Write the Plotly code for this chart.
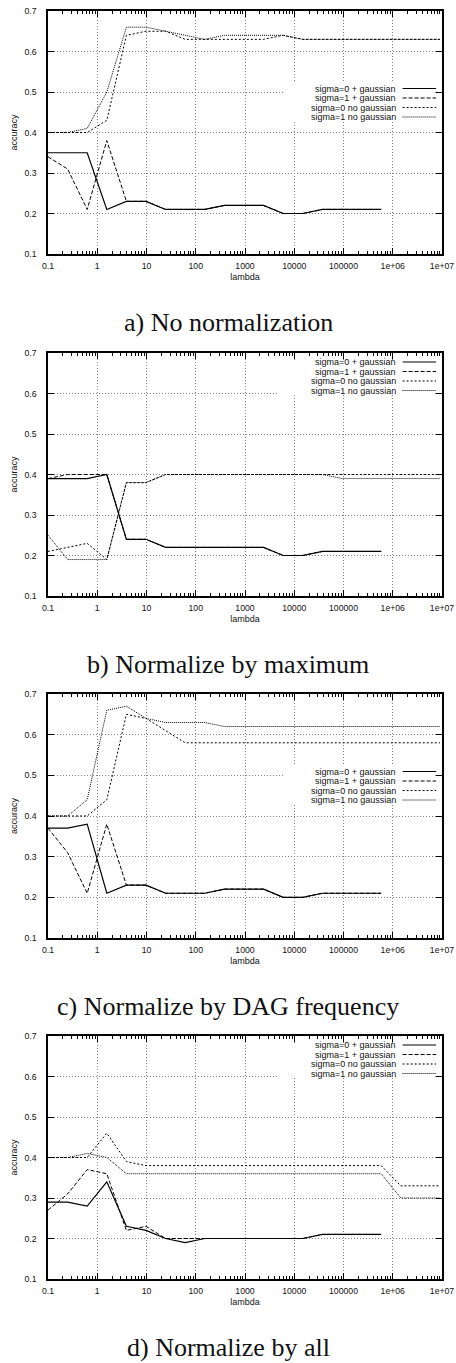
import plotly.graph_objects as go

# ---------------- data ----------------
LAMBDA = [0.1, 0.25, 0.625, 1.5625, 3.90625, 9.765625, 24.4140625, 61.03515625,
          152.587890625, 381.4697265625, 953.67431640625, 2384.185791015625,
          5960.464477539062, 14901.161193847656, 37252.90298461914, 93132.25746154785,
          232830.64365386963, 582076.6091346741, 1455191.5228366852,
          3637978.807091713, 9094947.017729282]

SERIES_NAMES = ["sigma=0 + gaussian", "sigma=1 + gaussian",
                "sigma=0 no gaussian", "sigma=1 no gaussian"]

# a) No normalization
A_S0_G = [0.35, 0.35, 0.35, 0.21, 0.23, 0.23, 0.21, 0.21, 0.21, 0.22, 0.22, 0.22,
          0.20, 0.20, 0.21, 0.21, 0.21, 0.21]
A_S1_G = [0.34, 0.31, 0.21, 0.38, 0.23, 0.23, 0.21, 0.21, 0.21, 0.22, 0.22, 0.22,
          0.20, 0.20, 0.21, 0.21, 0.21, 0.21]
A_S0_N = [0.40, 0.40, 0.40, 0.43, 0.64, 0.65, 0.65, 0.63, 0.63, 0.63, 0.63, 0.63,
          0.64, 0.63, 0.63, 0.63, 0.63, 0.63, 0.63, 0.63, 0.63]
A_S1_N = [0.40, 0.40, 0.41, 0.50, 0.66, 0.66, 0.65, 0.64, 0.63, 0.64, 0.64, 0.64,
          0.64, 0.63, 0.63, 0.63, 0.63, 0.63, 0.63, 0.63, 0.63]

# b) Normalize by maximum
B_S0_G = [0.39, 0.39, 0.39, 0.40, 0.24, 0.24, 0.22, 0.22, 0.22, 0.22, 0.22, 0.22,
          0.20, 0.20, 0.21, 0.21, 0.21, 0.21]
B_S1_G = [0.39, 0.40, 0.40, 0.40, 0.24, 0.24, 0.22, 0.22, 0.22, 0.22, 0.22, 0.22,
          0.20, 0.20, 0.21, 0.21, 0.21, 0.21]
B_S0_N = [0.21, 0.22, 0.23, 0.19, 0.38, 0.38, 0.40, 0.40, 0.40, 0.40, 0.40, 0.40,
          0.40, 0.40, 0.40, 0.40, 0.40, 0.40, 0.40, 0.40, 0.40]
B_S1_N = [0.25, 0.19, 0.19, 0.19, 0.38, 0.38, 0.40, 0.40, 0.40, 0.40, 0.40, 0.40,
          0.40, 0.40, 0.40, 0.39, 0.39, 0.39, 0.39, 0.39, 0.39]

# c) Normalize by DAG frequency
C_S0_G = [0.37, 0.37, 0.38, 0.21, 0.23, 0.23, 0.21, 0.21, 0.21, 0.22, 0.22, 0.22,
          0.20, 0.20, 0.21, 0.21, 0.21, 0.21]
C_S1_G = [0.37, 0.31, 0.21, 0.38, 0.23, 0.23, 0.21, 0.21, 0.21, 0.22, 0.22, 0.22,
          0.20, 0.20, 0.21, 0.21, 0.21, 0.21]
C_S0_N = [0.40, 0.40, 0.40, 0.44, 0.65, 0.64, 0.61, 0.58, 0.58, 0.58, 0.58, 0.58,
          0.58, 0.58, 0.58, 0.58, 0.58, 0.58, 0.58, 0.58, 0.58]
C_S1_N = [0.40, 0.40, 0.44, 0.66, 0.67, 0.64, 0.63, 0.63, 0.63, 0.62, 0.62, 0.62,
          0.62, 0.62, 0.62, 0.62, 0.62, 0.62, 0.62, 0.62, 0.62]

# d) Normalize by all
D_S0_G = [0.29, 0.29, 0.28, 0.34, 0.23, 0.22, 0.20, 0.19, 0.20, 0.20, 0.20, 0.20,
          0.20, 0.20, 0.21, 0.21, 0.21, 0.21]
D_S1_G = [0.27, 0.31, 0.37, 0.36, 0.22, 0.23, 0.20, 0.20, 0.20, 0.20, 0.20, 0.20,
          0.20, 0.20, 0.21, 0.21, 0.21, 0.21]
D_S0_N = [0.40, 0.40, 0.40, 0.46, 0.39, 0.38, 0.38, 0.38, 0.38, 0.38, 0.38, 0.38,
          0.38, 0.38, 0.38, 0.38, 0.38, 0.38, 0.33, 0.33, 0.33]
D_S1_N = [0.40, 0.40, 0.41, 0.40, 0.36, 0.36, 0.36, 0.36, 0.36, 0.36, 0.36, 0.36,
          0.36, 0.36, 0.36, 0.36, 0.36, 0.36, 0.30, 0.30, 0.30]

CAPTIONS = ["a) No normalization", "b) Normalize by maximum",
            "c) Normalize by DAG frequency", "d) Normalize by all"]

X_TICKVALS = [0.1, 1, 10, 100, 1000, 10000, 100000, 1e6, 1e7]
X_TICKTEXT = ["0.1", "1", "10", "100", "1000", "10000", "100000", "1e+06", "1e+07"]
Y_TICKVALS = [0.1, 0.2, 0.3, 0.4, 0.5, 0.6, 0.7]

PANELS = [
    (A_S0_G, A_S1_G, A_S0_N, A_S1_N),
    (B_S0_G, B_S1_G, B_S0_N, B_S1_N),
    (C_S0_G, C_S1_G, C_S0_N, C_S1_N),
    (D_S0_G, D_S1_G, D_S0_N, D_S1_N),
]

# ---------------- styling / layout ----------------
W, H = 456, 1363
ML, MR, MT, MB = 48, 14, 11, 84
PW = W - ML - MR
PH = H - MT - MB
PANEL_PX = [(11, 254), (353, 596), (694, 938), (1036, 1279)]   # top, bottom in px
KEY_POS = ["mid", "top", "mid", "top"]

DASHES = ["solid", "4px,2px", "2px,2px", "1px,1px"]
WIDTHS = [1.2, 1.0, 1.0, 1.0]
SANS = "Liberation Sans, Arial, Helvetica, sans-serif"
SERIF = "Liberation Serif, Times New Roman, serif"
TICK_FS = 8.7
GRID = dict(showgrid=True, gridcolor="#808080", griddash="1px,2px", gridwidth=1)

MINOR_X = [m * 10.0 ** e for e in range(-1, 7) for m in range(2, 10)]


def dom(px):
    return (H - MB - px) / PH


fig = go.Figure()
layout = dict(
    width=W, height=H,
    margin=dict(l=ML, r=MR, t=MT, b=MB, pad=0),
    paper_bgcolor="white", plot_bgcolor="white",
    showlegend=False,
    font=dict(family=SANS, size=9, color="#111"),
)

shapes = []
annotations = []

for i, series in enumerate(PANELS):
    n = i + 1
    xa = "x" if n == 1 else f"x{n}"
    ya = "y" if n == 1 else f"y{n}"
    xk = "xaxis" if n == 1 else f"xaxis{n}"
    yk = "yaxis" if n == 1 else f"yaxis{n}"
    top, bot = PANEL_PX[i]
    hpx = bot - top

    for j, vals in enumerate(series):
        fig.add_trace(go.Scatter(
            x=LAMBDA[:len(vals)], y=vals, mode="lines", name=SERIES_NAMES[j],
            line=dict(color="black", width=WIDTHS[j], dash=DASHES[j]),
            xaxis=xa, yaxis=ya, hoverinfo="x+y+name",
        ))

    layout[xk] = dict(
        domain=[0, 1], anchor=ya, type="log", range=[-1, 7],
        tickmode="array", tickvals=X_TICKVALS, ticktext=X_TICKTEXT,
        ticks="inside", ticklen=6, tickcolor="black", tickwidth=1,
        minor=dict(tickvals=MINOR_X, ticks="inside", ticklen=3,
                   tickcolor="black", showgrid=False),
        showline=True, linecolor="black", linewidth=1.5, mirror="allticks",
        zeroline=False, ticklabelstandoff=3,
        tickfont=dict(family=SANS, size=TICK_FS, color="#111"),
        title=dict(text="lambda", font=dict(family=SANS, size=9, color="#111"),
                   standoff=4),
        automargin=False, **GRID,
    )
    layout[yk] = dict(
        domain=[dom(bot), dom(top)], anchor=xa, range=[0.1, 0.7],
        tickmode="array", tickvals=Y_TICKVALS, tickformat=".1f",
        ticks="inside", ticklen=6, tickcolor="black", tickwidth=1,
        showline=True, linecolor="black", linewidth=1.5, mirror="allticks",
        zeroline=False, ticklabelstandoff=8,
        tickfont=dict(family=SANS, size=TICK_FS, color="#111"),
        title=dict(text="accuracy", font=dict(family=SANS, size=9, color="#111"),
                   standoff=5),
        automargin=False, **GRID,
    )

    # key drawn gnuplot-style: right aligned text, line sample at right
    if KEY_POS[i] == "top":
        rows = [9, 18.5, 28, 37.5]
        box = (0.582, 1 - 7.0 / PW, 7.0, 42.0)
    else:
        rows = [77.5, 87, 96.5, 106]
        box = (0.600, 1 - 7.0 / PW, 72.0, 111.0)
    shapes.append(dict(
        type="rect", xref=f"{xa} domain", yref=f"{ya} domain",
        x0=box[0], x1=box[1], y0=1 - box[3] / hpx, y1=1 - box[2] / hpx,
        fillcolor="white", line=dict(width=0), layer="above",
    ))
    for j, name in enumerate(SERIES_NAMES):
        yd = 1 - rows[j] / hpx
        annotations.append(dict(
            text=name, xref=f"{xa} domain", yref=f"{ya} domain",
            x=0.889, y=yd, xanchor="right", yanchor="middle", showarrow=False,
            font=dict(family=SANS, size=9, color="#111"),
        ))
        shapes.append(dict(
            type="line", xref=f"{xa} domain", yref=f"{ya} domain",
            x0=0.900, x1=0.985, y0=yd, y1=yd, layer="above",
            line=dict(color="black", width=WIDTHS[j], dash=DASHES[j]),
        ))

    annotations.append(dict(
        text=CAPTIONS[i], xref=f"{xa} domain", yref=f"{ya} domain",
        x=(228 - ML) / PW, y=-68 / hpx, xanchor="center", yanchor="middle",
        showarrow=False, font=dict(family=SERIF, size=26, color="#111"),
    ))

layout["shapes"] = shapes
layout["annotations"] = annotations
fig.update_layout(**layout)
fig.write_html("out.html",
               config={"displayModeBar": False},
               post_script="document.body.style.margin='0';")
